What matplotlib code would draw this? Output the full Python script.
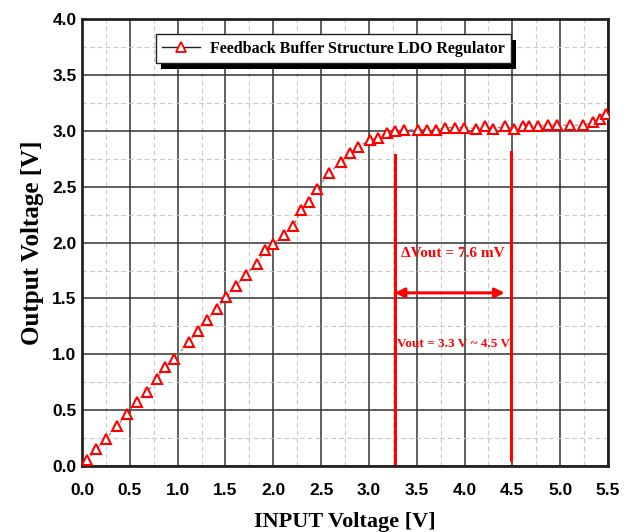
import numpy as np
import matplotlib
matplotlib.use("Agg")
import matplotlib.pyplot as plt
from matplotlib.lines import Line2D
from matplotlib.patches import Rectangle

# measured points (input voltage, output voltage)
vin = [0.05, 0.15, 0.25, 0.37, 0.47, 0.575, 0.68, 0.78, 0.87, 0.96,
       1.12, 1.21, 1.31, 1.41, 1.51, 1.61, 1.71, 1.83, 1.91, 2.00,
       2.11, 2.21, 2.29, 2.37, 2.46, 2.58, 2.71, 2.80, 2.89, 3.01,
       3.10, 3.19, 3.27, 3.37, 3.51, 3.61, 3.70, 3.80, 3.90, 3.99,
       4.12, 4.21, 4.30, 4.42, 4.52, 4.61, 4.67, 4.77, 4.87, 4.97,
       5.10, 5.24, 5.34, 5.42, 5.48]
vout = [0.05, 0.15, 0.245, 0.36, 0.47, 0.575, 0.66, 0.78, 0.89, 0.96,
        1.11, 1.21, 1.31, 1.41, 1.51, 1.61, 1.71, 1.81, 1.93, 1.99,
        2.07, 2.15, 2.29, 2.36, 2.48, 2.62, 2.72, 2.80, 2.86, 2.92,
        2.94, 2.98, 3.00, 3.01, 3.01, 3.01, 3.01, 3.03, 3.03, 3.03,
        3.02, 3.04, 3.02, 3.04, 3.02, 3.04, 3.04, 3.04, 3.05, 3.05,
        3.05, 3.05, 3.08, 3.11, 3.15]

x_ticks = [0.0, 0.5, 1.0, 1.5, 2.0, 2.5, 3.0, 3.5, 4.0, 4.5, 5.0, 5.5]
y_ticks = [0.0, 0.5, 1.0, 1.5, 2.0, 2.5, 3.0, 3.5, 4.0]

# annotation markers
left_line = (3.27, 0.03, 2.78)
right_line = (4.49, 0.05, 2.81)
arrow_x = (3.27, 4.42)
arrow_y = 1.55
delta_text = "\u0394Vout = 7.6 mV"
range_text = "Vout = 3.3 V ~ 4.5 V"
legend_label = "Feedback Buffer Structure LDO Regulator"

serif = "Liberation Serif"
sans = "Liberation Sans"

fig = plt.figure(figsize=(6.31, 5.32), dpi=100)
ax = fig.add_axes([0.130, 0.124, 0.8335, 0.840])

ax.plot(vin, vout, color="gray", lw=0.8, ls=(0, (3, 2)), zorder=3)
ax.plot(vin, vout, ls="none", marker="^", ms=7.5, mfc="white", mec="red",
        mew=1.5, zorder=4)

ax.set_xlim(0, 5.5)
ax.set_ylim(0, 4.0)
ax.set_xticks(x_ticks)
ax.set_yticks(y_ticks)
ax.set_xticks(np.arange(0.25, 5.5, 0.5), minor=True)
ax.set_yticks(np.arange(0.25, 4.0, 0.5), minor=True)
ax.set_xticklabels([f"{v:.1f}" for v in x_ticks])
ax.set_yticklabels([f"{v:.1f}" for v in y_ticks])
ax.tick_params(which="both", length=0)
ax.tick_params(axis="x", pad=12)
ax.tick_params(axis="y", pad=4)
for lab in ax.get_xticklabels() + ax.get_yticklabels():
    lab.set_fontfamily(sans)
    lab.set_fontweight("bold")
    lab.set_fontsize(12.5)

ax.grid(which="major", color="#333333", lw=1.1, ls="-", zorder=1)
ax.grid(which="minor", color="#c8c8c8", lw=0.8, ls=(0, (4, 3)), zorder=1)
ax.set_axisbelow(True)
for sp in ax.spines.values():
    sp.set_linewidth(2.0)
    sp.set_color("#222222")

ax.set_xlabel("INPUT Voltage [V]", family=serif, weight="bold", fontsize=16,
              labelpad=10)
ax.set_ylabel("Output Voltage [V]", family=serif, weight="bold", fontsize=18,
              labelpad=6)

# range lines and arrow
ax.plot([left_line[0]] * 2, left_line[1:], color="red", lw=2.2, zorder=5)
ax.plot([right_line[0]] * 2, right_line[1:], color="red", lw=2.2, zorder=5)
ax.annotate("", xy=(arrow_x[1], arrow_y), xytext=(arrow_x[0], arrow_y),
            arrowprops=dict(arrowstyle="<|-|>", color="red", lw=2.2,
                            mutation_scale=14, shrinkA=0, shrinkB=0),
            zorder=5)
ax.text(3.88, 1.90, delta_text, color="red", family=serif, weight="bold",
        fontsize=11, ha="center", va="center", zorder=6)
ax.text(3.89, 1.09, range_text, color="red", family=serif, weight="bold",
        fontsize=9.5, ha="center", va="center", zorder=6)

# legend with black drop shadow
handle = Line2D([], [], color="#222222", lw=1.0, marker="^", ms=7,
                mfc="white", mec="red", mew=1.3)
leg = ax.legend([handle], [legend_label], loc="center",
                bbox_to_anchor=(0.478, 0.934), fancybox=False,
                prop=dict(family=serif, weight="bold", size=11.5),
                handlelength=2.4, handletextpad=0.6, borderpad=0.4,
                framealpha=1)
leg.get_frame().set_edgecolor("#222222")
leg.get_frame().set_linewidth(1.0)
leg.set_zorder(10)

fig.canvas.draw()
bb = leg.get_window_extent().transformed(fig.transFigure.inverted())
shadow = Rectangle((bb.x0 + 5 / 631, bb.y0 - 6 / 532), bb.width, bb.height,
                   transform=fig.transFigure, facecolor="black",
                   edgecolor="none", zorder=9)
ax.add_artist(shadow)
shadow.set_clip_on(False)

fig.savefig("out.png", dpi=100)
